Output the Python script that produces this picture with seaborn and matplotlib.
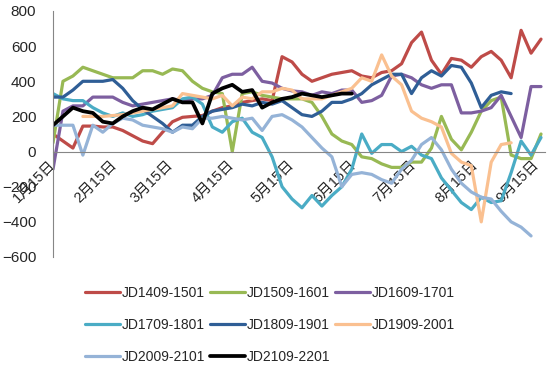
import numpy as np
import pandas as pd
import matplotlib
matplotlib.use("Agg")
import matplotlib.pyplot as plt
import seaborn as sns

sns.set_style("white")
plt.rcParams['font.family'] = ['Liberation Sans', 'Noto Sans CJK SC']

nan = np.nan
# readings every 5 days from Jan 15
start = pd.Timestamp("2021-01-15")
dates = pd.date_range(start, periods=50, freq="5D")
days = (dates - start).days

jd1409 = [100, 60, 20, 145, 145, 140, 140, 120, 90, 60,
          45, 110, 170, 195, 200, 205, 230, 250, 260, 280,
          290, 300, 290, 540, 510, 440, 400, 420, 440, 450,
          460, 430, 420, 450, 460, 500, 620, 680, 520, 440,
          530, 520, 480, 540, 570, 520, 420, 690, 560, 640]
jd1509 = [50, 400, 430, 480, 460, 440, 420, 420, 420, 460,
          460, 440, 470, 460, 400, 360, 340, 330, 0, 330,
          340, 320, 310, 300, 300, 300, 280, 200, 100, 60,
          40, -30, -40, -70, -90, -90, -60, -60, 20, 200,
          70, 10, 110, 230, 290, 310, -20, -40, -40, 100]
jd1609 = [-100, 230, 260, 260, 310, 310, 310, 280, 260, 270,
          280, 290, 300, 290, 300, 300, 320, 420, 440, 440,
          480, 400, 390, 360, 345, 340, 320, 340, 330, 350,
          350, 280, 290, 320, 430, 440, 420, 380, 360, 380,
          380, 220, 220, 230, 250, 320, 200, 80, 370, 370]
jd1709 = [330, 300, 290, 290, 250, 220, 200, 220, 200, 210,
          230, 240, 250, 300, 310, 270, 140, 110, 170, 190,
          110, 80, -30, -200, -270, -320, -250, -310, -250, -200,
          -100, 100, -10, 40, 40, 0, 30, -20, -40, -150,
          -220, -290, -330, -260, -290, -280, -120, 60, -20, 80]
jd1809 = [310, 310, 350, 400, 400, 400, 410, 360, 290, 240,
          200, 160, 110, 150, 150, 200, 230, 240, 250, 270,
          260, 280, 270, 290, 250, 210, 200, 230, 280, 280,
          300, 330, 380, 410, 440, 440, 330, 420, 460, 430,
          490, 480, 390, 250, 320, 340, 330, nan, nan, nan]
jd1909 = [nan, nan, nan, 200, 200, 200, 205, 210, 220, 230,
          240, 250, 260, 330, 320, 310, 300, 320, 260, 310,
          300, 340, 340, 360, 350, 300, 300, 300, 320, 340,
          360, 420, 400, 550, 430, 380, 230, 190, 170, 140,
          -10, -60, -80, -400, -60, 40, 50, nan, nan, nan]
jd2009 = [150, 150, 150, -20, 150, 110, 160, 190, 180, 150,
          140, 130, 110, 140, 130, 190, 190, 200, 190, 180,
          190, 120, 200, 210, 180, 140, 80, 20, -30, -200,
          -130, -120, -130, -160, -180, -100, -50, 40, 80, 10,
          -100, -180, -230, -260, -270, -340, -400, -430, -480, nan]
jd2109 = [150, 200, 250, 230, 220, 170, 160, 200, 230, 250,
          240, 270, 300, 280, 280, 160, 330, 360, 380, 340,
          350, 250, 280, 300, 310, 330, 320, 310, 320, 330,
          330] + [nan] * 19

series = {
    "JD1409-1501": jd1409, "JD1509-1601": jd1509, "JD1609-1701": jd1609,
    "JD1709-1801": jd1709, "JD1809-1901": jd1809, "JD1909-2001": jd1909,
    "JD2009-2101": jd2009, "JD2109-2201": jd2109,
}
colors = ["#BE4B48", "#98B954", "#7D5FA0", "#4AACC5",
          "#2F5E96", "#FAC090", "#95B3D7", "#000000"]

fig = plt.figure(figsize=(5.5, 3.66), dpi=100)
ax = fig.add_axes([53 / 550, 1 - 257 / 366, 492 / 550, 246 / 366])

for (name, vals), c in zip(series.items(), colors):
    df = pd.DataFrame({"day": days, "value": vals}).dropna()
    sns.lineplot(data=df, x="day", y="value", ax=ax, color=c,
                 linewidth=2.7 if c == "#000000" else 2.3, label=name)

# spine position first: moving it rebuilds the ticks
for s in ["top", "right"]:
    ax.spines[s].set_visible(False)
ax.spines["bottom"].set_position(("data", 0))
ax.spines["bottom"].set_color("#868686")
ax.spines["left"].set_color("#868686")

ax.set_xlim(0, 247)
ax.set_ylim(-600, 800)
ax.set_yticks(np.arange(-600, 801, 200))
ax.tick_params(axis="y", labelsize=11, length=4, direction="out", color="#868686", pad=8)
ax.tick_params(axis="x", length=4, direction="out", color="#868686", pad=4)

ticks = pd.date_range(start, periods=9, freq=pd.DateOffset(months=1))
ax.set_xticks((ticks - start).days)
ax.set_xticklabels([f"{t.month}月15日" for t in ticks])
plt.setp(ax.get_xticklabels(), rotation=45, ha="right", va="center",
         rotation_mode="anchor", fontsize=10.5)
ax.set_xlabel("")
ax.set_ylabel("")

# Excel fills the legend row by row
handles, labels = ax.get_legend_handles_labels()
ax.get_legend().remove()
order = [0, 3, 6, 1, 4, 7, 2, 5]
fig.legend([handles[i] for i in order], [labels[i] for i in order], ncol=3,
           loc="upper left", bbox_to_anchor=(85 / 550, 1 - 286 / 366), frameon=False,
           fontsize=10, handlelength=2.5, handletextpad=0.15,
           columnspacing=0.35, labelspacing=1.3, borderpad=0, borderaxespad=0)

fig.savefig("out.png", dpi=100)
